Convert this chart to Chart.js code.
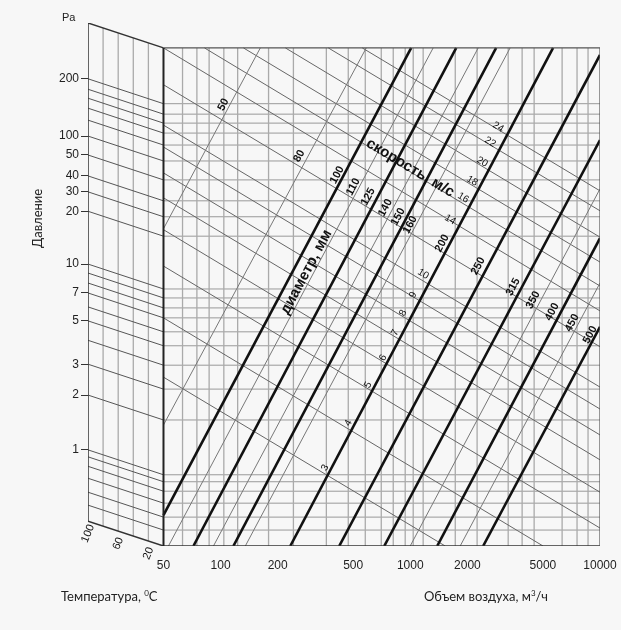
<!DOCTYPE html>
<html>
<head>
<meta charset="utf-8">
<script src="https://cdn.jsdelivr.net/npm/chart.js@4.4.0/dist/chart.umd.min.js"></script>
<style>
  body { margin: 0; background: #f7f7f7; }
  #wrap { position: relative; width: 621px; height: 630px; font-family: Lato, "Liberation Sans", Arial, sans-serif; color: #222; }
  #nomo { position: absolute; left: 0; top: 0; }
  .t { position: absolute; font-size: 13px; white-space: nowrap; }
  .t sup { font-size: 8px; }
</style>
</head>
<body>
<div id="wrap">
  <canvas id="nomo" width="621" height="630"></canvas>
  <div class="t" style="left:62px;top:11px;font-family:'Liberation Sans',Arial;font-size:11px">Pa</div>
  <div class="t" style="left:7px;top:210px;transform:rotate(-90deg);transform-origin:30px 8px">Давление</div>
  <div class="t" style="left:61px;top:588px">Температура, <sup>0</sup>C</div>
  <div class="t" style="left:424px;top:588px">Объем воздуха, м<sup>3</sup>/ч</div>
</div>
<script>
// x axis: air volume, m3/h (log). The temperature panel sits at x 20..50.
const xTicks = [50, 100, 200, 500, 1000, 2000, 5000, 10000];
const xGrid = [63, 75, 87, 104, 123, 179, 242, 361, 471, 579, 703, 813, 940, 1036, 1169, 1726, 2250, 3281, 3886, 4496, 6314, 7568, 8649];

// y axis: nomogram height (main panel 0..100), pressure levels at 20 C
const levels = [88.8, 86.7, 84.9, 82.9, 80.5, 77.3, 73.5, 69.3, 66.1, 62.2, 51.6, 49.8, 47.8, 45.8, 43.0, 40.2, 36.3, 31.5, 25.3, 14.3, 12.9, 11.0, 8.6, 5.8, 3.2];
const pressureLabels = ['200', '', '', '', '', '100', '50', '40', '30', '20', '10', '', '', '7', '', '5', '', '3', '2', '1', '', '', '', '', ''];
const tempShift = 5; // rise of the levels from 20 C side to 100 C side

// temperature panel
const tempGrid = [80, 60, 40, 20];
const tempLabels = [100, 60, 20];

// duct diameters, mm
const diameters = [50, 80, 100, 110, 125, 140, 150, 160, 200, 250, 315, 350, 400, 450, 500];
const diamBold = [false, false, true, false, true, false, true, false, true, true, true, false, true, false, true];
const diamStart = [[50, 63.7], [50, 24.3], [50, 6.2], [53.1, 0], [71.9, 0], [91.7, 0], [116.8, 0], [135, 0], [233, 0], [422, 0], [729, 0], [999, 0], [1386, 0], [1832, 0], [2421, 0]];
const diamEnd = [[162, 100], [586, 100], [1011, 100], [1320, 100], [1746, 100], [2280, 100], [2834, 100], [3359, 100], [5658, 100], [10000, 98.6], [10000, 81.5], [10000, 71.7], [10000, 61.8], [10000, 52.8], [10000, 44.0]];
const diamLabelAt = [[103.5, 88.6], [260, 78.3], [412, 74.5], [500, 72.1], [600, 70.1], [738, 67.9], [864, 66.1], [999, 64.5], [1473, 60.8], [2280, 56.2], [3484, 52.0], [4440, 49.4], [5590, 47.0], [7125, 44.8], [8865, 42.4]];

// air velocity, m/s
const velocities = [3, 4, 5, 6, 7, 8, 9, 10, 12, 14, 16, 18, 20, 22, 24];
const velStart = [[50, 33.9], [50, 45.8], [50, 56.2], [50, 63.5], [50, 69.9], [50, 74.9], [50, 80.1], [50, 84.5], [50, 92.6], [50, 100], [82.2, 100], [131.9, 100], [219.5, 100], [369.6, 100], [558, 100]];
const velEnd = [[1527, 0], [5010, 0], [10000, 3.6], [10000, 10.8], [10000, 17.3], [10000, 22.3], [10000, 27.5], [10000, 31.9], [10000, 40.0], [10000, 47.2], [10000, 52.2], [10000, 57.0], [10000, 62.0], [10000, 67.3], [10000, 71.3]];
const velLabelAt = [[356, 15.7], [471, 24.7], [600, 32.3], [720, 37.8], [833, 42.8], [918, 46.8], [1036, 50.4], [1170, 54.6], null, [1623, 65.5], [1900, 69.9], [2120, 73.3], [2392, 77.1], [2636, 81.1], [2904, 84.1]];

// position of a temperature inside the left panel (100 C at the left edge, 0 C at x = 50)
const tempToX = t => 20 * Math.pow(50 / 20, (100 - t) / 100);
const edgeRise = t => tempShift * t / 100;

const datasets = [];
function seg(a, b, color, width, order) {
  datasets.push({
    data: [{ x: a[0], y: a[1] }, { x: b[0], y: b[1] }],
    showLine: true, pointRadius: 0, borderColor: color, borderWidth: width, order: order
  });
}

// grid of the main panel
xGrid.forEach(q => seg([q, 0], [q, 100], '#aaa', 1.3, 60));
levels.forEach(l => seg([50, l], [10000, l], '#999', 1, 60));
// temperature panel
tempGrid.forEach(t => seg([tempToX(t), edgeRise(t)], [tempToX(t), 100 + edgeRise(t)], '#aaa', 1.3, 60));
levels.forEach(l => seg([tempToX(100), l + tempShift], [50, l], '#555', 1, 55));
// velocity and diameter lines
velocities.forEach((v, i) => seg(velStart[i], velEnd[i], '#666', 1, 40));
diameters.forEach((d, i) => seg(diamStart[i], diamEnd[i], diamBold[i] ? '#111' : '#777', diamBold[i] ? 2.6 : 1, diamBold[i] ? 20 : 30));
// frames
seg([50, 0], [50, 100], '#222', 2, 5);
seg([50, 100], [10000, 100], '#555', 1.2, 5);
seg([10000, 0], [10000, 100], '#555', 1.2, 5);
seg([50, 0], [10000, 0], '#333', 1.5, 5);
seg([20, tempShift], [20, 100 + tempShift], '#333', 1.5, 5);
seg([20, 100 + tempShift], [50, 100], '#333', 1.5, 5);
seg([20, tempShift], [50, 0], '#333', 1.5, 5);

// texts placed at chart values
const notes = [];
diameters.forEach((d, i) => notes.push({ text: String(d), at: diamLabelAt[i], rot: -62, font: 'bold 11px "Liberation Sans", Arial' }));
velocities.forEach((v, i) => {
  if (!velLabelAt[i]) return;
  notes.push({ text: String(v), at: velLabelAt[i], rot: v < 10 ? -62 : 31, font: '10px "Liberation Sans", Arial' });
});
notes.push({ text: 'скорость, м/с', at: [999, 75.9], rot: 31, font: 'bold 15px "Liberation Sans", Arial' });
notes.push({ text: 'диаметр, мм', at: [283, 55.0], rot: -62, font: 'bold 15px "Liberation Sans", Arial' });
tempLabels.forEach(t => notes.push({ text: String(t), at: [tempToX(t), edgeRise(t) - 2.5], rot: -68, font: '11px "Liberation Sans", Arial' }));

const textPlugin = {
  id: 'nomoText',
  afterDatasetsDraw(chart) {
    const { ctx, scales: { x, y } } = chart;
    notes.forEach(n => {
      ctx.save();
      ctx.translate(x.getPixelForValue(n.at[0]), y.getPixelForValue(n.at[1]));
      ctx.rotate(n.rot * Math.PI / 180);
      ctx.font = n.font;
      ctx.fillStyle = '#111';
      ctx.textAlign = 'center';
      ctx.textBaseline = 'middle';
      ctx.fillText(n.text, 0, 0);
      ctx.restore();
    });
  }
};

const yTickMap = new Map();
levels.forEach((l, i) => { if (pressureLabels[i]) yTickMap.set(+(l + tempShift).toFixed(2), pressureLabels[i]); });

new Chart(document.getElementById('nomo'), {
  type: 'scatter',
  data: { datasets: datasets },
  options: {
    responsive: false,
    animation: false,
    layout: { padding: { left: 0, right: 21, top: 23, bottom: 54 } },
    plugins: { legend: { display: false }, tooltip: { enabled: false } },
    scales: {
      x: {
        type: 'logarithmic', min: 20, max: 10000,
        afterBuildTicks: s => { s.ticks = xTicks.map(v => ({ value: v })); },
        afterFit: s => { s.height = 30; },
        ticks: { autoSkip: false, maxRotation: 0, padding: 4, color: '#222', font: { family: '"Liberation Sans", Arial', size: 12 }, callback: v => String(v) },
        grid: { display: false },
        border: { display: false }
      },
      y: {
        type: 'linear', min: 0, max: 100 + tempShift,
        afterBuildTicks: s => { s.ticks = [...yTickMap.keys()].map(v => ({ value: v })); },
        afterFit: s => { s.width = 88; },
        ticks: { autoSkip: false, padding: 2, color: '#222', font: { family: '"Liberation Sans", Arial', size: 12 }, callback: v => yTickMap.get(+v.toFixed(2)) || '' },
        grid: { drawOnChartArea: false, drawTicks: true, tickLength: 7, color: '#333' },
        border: { display: false }
      }
    }
  },
  plugins: [textPlugin]
});
</script>
</body>
</html>
